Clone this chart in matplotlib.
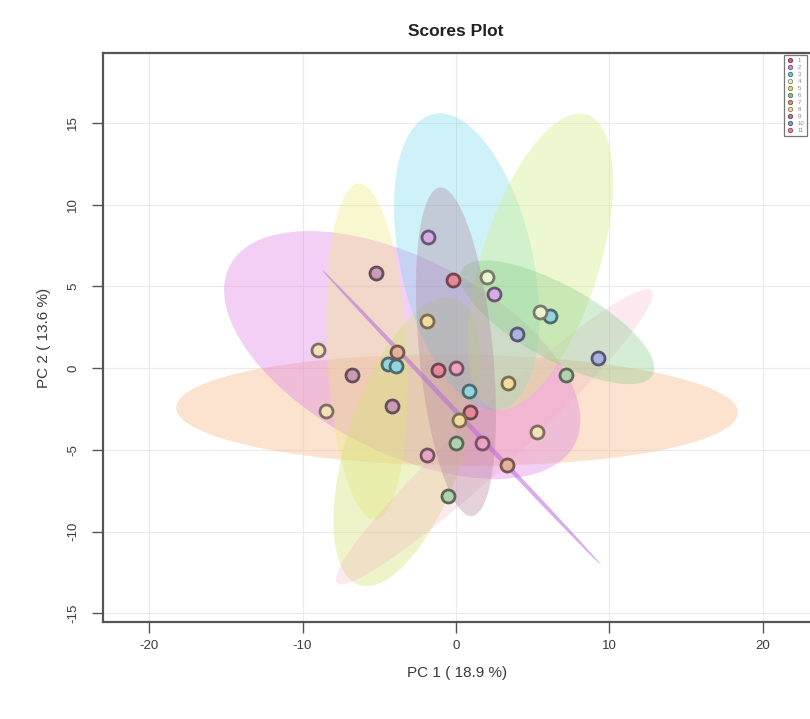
import numpy as np
import matplotlib
matplotlib.use("Agg")
import matplotlib.pyplot as plt
import matplotlib.colors as mcolors
from matplotlib.patches import Ellipse
from matplotlib.lines import Line2D

plt.rcParams['font.family'] = ['Liberation Sans', 'DejaVu Sans']

# ---------------- data ----------------
group_names = ["1", "2", "3", "4", "5", "6", "7", "8", "9", "10", "11"]
group_colors = ["#D9576F", "#C38AD6", "#66C3CB", "#E4EEBA", "#EACF73", "#8FBF88",
                "#D88F70", "#F1D49A", "#B56F92", "#8493D1", "#E27AAA"]

# scores (PC1, PC2) and group index of each sample
pc1 = [-0.2, -1.2, 0.9,
       -1.8, 2.5,
       -4.4, -3.9, 0.85, 6.1,
       2.0, 5.5,
       -1.9, 0.2, 3.4,
       7.2, 0.0, -0.5,
       -3.85, 3.3,
       -9.0, -8.5, 5.3,
       -5.2, -6.8, -4.2,
       4.0, 9.25,
       0.0, 1.7, -1.9]
pc2 = [5.4, -0.1, -2.7,
       8.0, 4.5,
       0.25, 0.1, -1.4, 3.2,
       5.6, 3.4,
       2.9, -3.2, -0.9,
       -0.4, -4.6, -7.8,
       1.0, -5.9,
       1.1, -2.6, -3.9,
       5.8, -0.4, -2.3,
       2.1, 0.6,
       0.0, -4.6, -5.3]
sample_group = [0, 0, 0,
                1, 1,
                2, 2, 2, 2,
                3, 3,
                4, 4, 4,
                5, 5, 5,
                6, 6,
                7, 7, 7,
                8, 8, 8,
                9, 9,
                10, 10, 10]

# 95% confidence ellipses (centre, semi-axes, angle in degrees)
ell_cx = [0.0, 0.7, 6.6, 5.5, -5.8, -3.2, 0.35, 0.07, -3.5, 2.5, np.nan]
ell_cy = [1.0, 6.5, 2.8, 6.5, 1.0, -4.5, -3.0, -2.57, 0.8, -4.2, np.nan]
ell_a = [10.1, 9.3, 7.0, 9.5, 10.3, 9.3, 12.8, 18.3, 12.5, 13.6, np.nan]
ell_b = [2.4, 4.3, 2.3, 3.8, 2.6, 3.8, 0.15, 3.4, 6.0, 1.8, np.nan]
ell_angle = [96, 104, -27, 71, 93, 70, -44.8, -0.5, -25, 41, 0]
ell_colors = ["#B0849C", "#62D6EC", "#86CC86", "#D6EE8A", "#EEE978", "#D5E27C",
              "#B86AD8", "#F5B98A", "#DE76E6", "#F5A0BC", "#FFFFFF"]
ell_alpha = [0.35, 0.30, 0.35, 0.40, 0.35, 0.40, 0.55, 0.40, 0.35, 0.22, 0.0]

xticks = [-20, -10, 0, 10, 20]
yticks = [-15, -10, -5, 0, 5, 10, 15]
x_label = "PC 1 ( 18.9 %)"
y_label = "PC 2 ( 13.6 %)"
title = "Scores Plot"

# ---------------- plot ----------------
W, H = 810, 719
fig = plt.figure(figsize=(W / 100, H / 100), dpi=100)
ax = fig.add_axes([103 / W, (H - 622) / H, (812 - 103) / W, (622 - 53) / H])
ax.set_xlim(-23.0, 23.2)
ax.set_ylim(-15.53, 19.27)

for xt in xticks:
    ax.axvline(xt, color="#EBEBEB", lw=0.8, zorder=0)
for yt in yticks:
    ax.axhline(yt, color="#EBEBEB", lw=0.8, zorder=0)

order = [7, 8, 4, 5, 9, 1, 3, 2, 0, 6]
for g in order:
    if np.isnan(ell_cx[g]):
        continue
    e = Ellipse((ell_cx[g], ell_cy[g]), 2 * ell_a[g], 2 * ell_b[g], angle=ell_angle[g],
                facecolor=ell_colors[g], edgecolor="none", alpha=ell_alpha[g], zorder=1)
    ax.add_patch(e)

pc1 = np.array(pc1)
pc2 = np.array(pc2)
sample_group = np.array(sample_group)
white = np.ones(3)
grey = np.array([0.35, 0.33, 0.35])
for g, col in enumerate(group_colors):
    m = sample_group == g
    if not m.any():
        continue
    rgb = np.array(mcolors.to_rgb(col))
    face = tuple(rgb * 0.7 + white * 0.3)
    edge = tuple(rgb * 0.35 + grey * 0.45)
    ax.scatter(pc1[m], pc2[m], s=88, facecolor=face, edgecolor=edge,
               linewidths=2.0, zorder=3)

ax.set_xticks(xticks)
ax.set_yticks(yticks)
ax.set_xticklabels([str(v) for v in xticks], fontsize=9.5, color="#3A3A3A")
ax.set_yticklabels([str(v) for v in yticks], fontsize=9.5, color="#3A3A3A",
                   rotation=90, va="center")
ax.tick_params(axis="both", direction="out", length=8, width=1.0, color="#555555")
ax.tick_params(axis="x", pad=5)
ax.tick_params(axis="y", pad=9)
for sp in ax.spines.values():
    sp.set_color("#555555")
    sp.set_linewidth(1.6)

ax.set_xlabel(x_label, fontsize=11, color="#3A3A3A", labelpad=10)
ax.set_ylabel(y_label, fontsize=11, color="#3A3A3A", labelpad=12)
fig.text(456 / W, 1 - 31 / H, title, ha="center", va="center",
         fontsize=12.5, fontweight="bold", color="#222222")

handles = [Line2D([0], [0], marker="o", linestyle="none", markersize=3.2,
                  markerfacecolor=c, markeredgecolor=tuple(np.array(mcolors.to_rgb(c)) * 0.5),
                  markeredgewidth=0.5) for c in group_colors]
leg = fig.legend(handles, group_names, loc="upper left",
                 bbox_to_anchor=(784 / W, 1 - 55 / H), fontsize=4.3,
                 frameon=True, fancybox=False, borderpad=0.5, labelspacing=0.3,
                 handletextpad=0.8, handlelength=1.0, borderaxespad=0)
leg.get_frame().set_edgecolor("#555555")
leg.get_frame().set_linewidth(0.9)
for t in leg.get_texts():
    t.set_color("#888888")

fig.savefig("out.png", dpi=100)
